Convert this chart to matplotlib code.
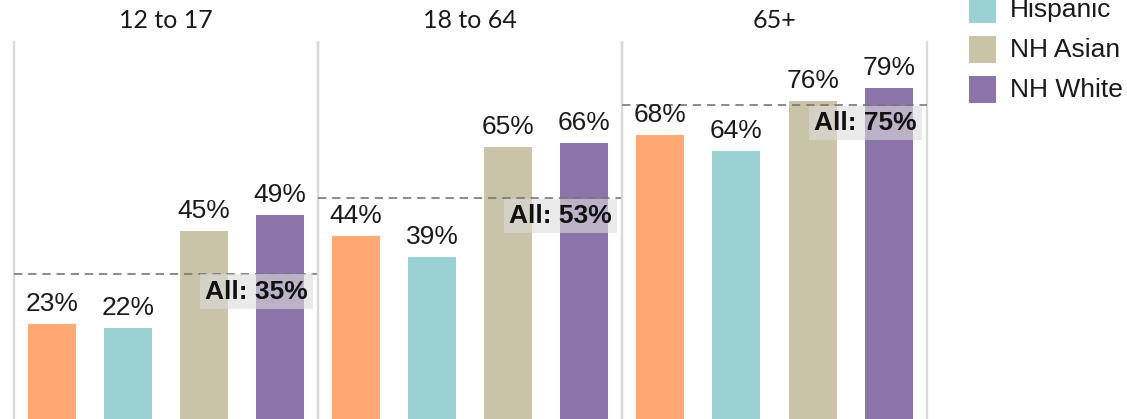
import matplotlib
matplotlib.use("Agg")
import matplotlib.pyplot as plt
from matplotlib.patches import Rectangle

# ---- data ----
age_groups = ["12 to 17", "18 to 64", "65+"]
groups = ["NH Black", "Hispanic", "NH Asian", "NH White"]
colors = ["#FEA876", "#9CD1D3", "#C9C4A8", "#8A74A9"]
values = {
    "12 to 17": [23, 22, 45, 49],
    "18 to 64": [44, 39, 65, 66],
    "65+": [68, 64, 76, 79],
}
overall = [35, 53, 75]

W, H = 1127, 419
DPI = 100
fig = plt.figure(figsize=(W / DPI, H / DPI), dpi=DPI)
fig.patch.set_facecolor("white")

def px(x0, y0_top, w, h):
    """pixel box (top-left origin) -> figure fraction rect"""
    return [x0 / W, (H - y0_top - h) / H, w / W, h / H]

label_font = "Liberation Sans"
title_font = "Lato"
pt = 72.0 / DPI  # points per pixel

panel_left = [14, 318, 622]
panel_w = [304, 304, 305]
ax_top, ax_bottom = 42, 421

for i, ag in enumerate(age_groups):
    ax = fig.add_axes(px(panel_left[i], ax_top, panel_w[i], ax_bottom - ax_top))
    xs = list(range(len(groups)))
    ax.bar(xs, values[ag], width=0.63, color=colors, zorder=2)
    ax.set_xlim(-0.5, 3.5)
    ax.set_ylim(0, 90)
    ax.set_xticks([])
    ax.set_yticks([])
    for s in ["top", "bottom"]:
        ax.spines[s].set_visible(False)
    for s in ["left", "right"]:
        ax.spines[s].set_color("#d9d9d9")
        ax.spines[s].set_linewidth(1.6)
    ax.patch.set_alpha(0)

    for x, v in zip(xs, values[ag]):
        ax.annotate(f"{v}%", xy=(x, v), xytext=(0, 13 * pt), textcoords="offset points",
                    ha="center", va="baseline", fontsize=19, family=label_font,
                    color="#1a1a1a", zorder=4)

    ax.axhline(overall[i], color="#777777", lw=1.2, ls=(0, (5, 3.5)), zorder=3)
    ax.annotate(f"All: {overall[i]}%", xy=(1, overall[i]),
                xycoords=("axes fraction", "data"),
                xytext=(-10 * pt, -25 * pt), textcoords="offset points",
                ha="right", va="baseline", fontsize=19, fontweight="bold",
                family=label_font, color="#111111", zorder=5,
                bbox=dict(boxstyle="square,pad=0.2", facecolor="#dddddd",
                          edgecolor="none", alpha=0.6))

    ax.annotate(ag, xy=(0.5, 1), xycoords="axes fraction",
                xytext=(0, 14 * pt), textcoords="offset points",
                ha="center", va="baseline", fontsize=18, family=title_font,
                color="#1a1a1a", annotation_clip=False)

# ---- legend (top entry falls above the canvas, as in the reference) ----
sq = 27
row_centers = [-30.5, 9.5, 49.5, 89.5]
for name, col, yc in zip(groups, colors, row_centers):
    fig.patches.append(Rectangle(((969) / W, (H - yc - sq / 2) / H), sq / W, sq / H,
                                 transform=fig.transFigure, facecolor=col,
                                 edgecolor="none"))
    fig.text(1010 / W, (H - (yc + 7.5)) / H, name, ha="left", va="baseline",
             fontsize=19, family=label_font, color="#1a1a1a")

fig.savefig("out.png", dpi=DPI)
